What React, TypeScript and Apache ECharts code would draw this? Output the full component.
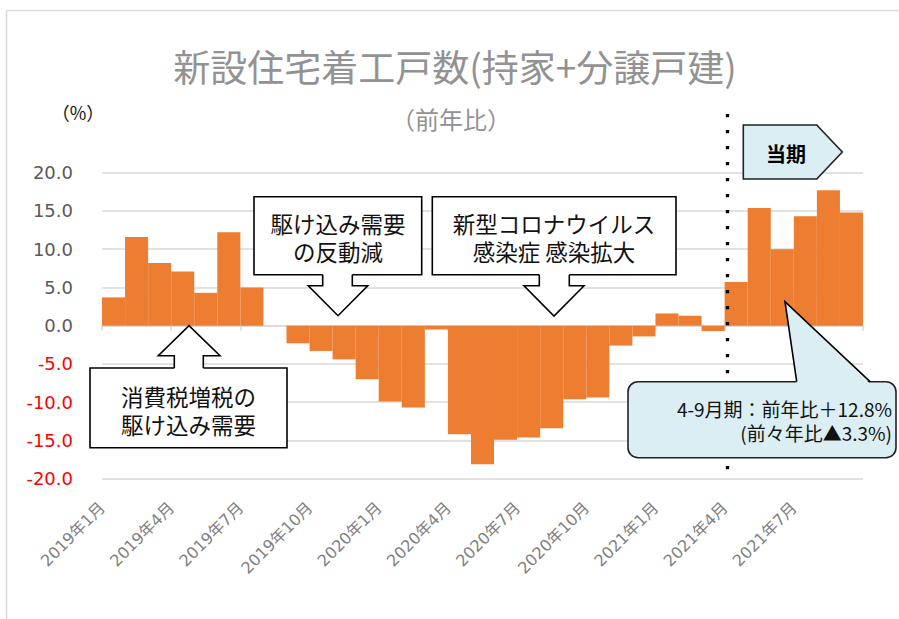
import { useEffect, useRef } from "react";
import * as echarts from "echarts";

const categories = [
  "2019年1月", "2019年2月", "2019年3月", "2019年4月", "2019年5月", "2019年6月",
  "2019年7月", "2019年8月", "2019年9月", "2019年10月", "2019年11月", "2019年12月",
  "2020年1月", "2020年2月", "2020年3月", "2020年4月", "2020年5月", "2020年6月",
  "2020年7月", "2020年8月", "2020年9月", "2020年10月", "2020年11月", "2020年12月",
  "2021年1月", "2021年2月", "2021年3月", "2021年4月", "2021年5月", "2021年6月",
  "2021年7月", "2021年8月", "2021年9月",
];

const yoyValues = [
  3.7, 11.6, 8.2, 7.1, 4.3, 12.2, 5.0, 0.0, -2.3, -3.3, -4.4, -7.0,
  -9.9, -10.7, -0.5, -14.2, -18.1, -14.9, -14.6, -13.4, -9.6, -9.4, -2.6, -1.4,
  1.6, 1.3, -0.7, 5.7, 15.4, 10.0, 14.3, 17.7, 14.8,
];

const yMin = -20;
const yMax = 20;
const yStep = 5;

const titleText = "新設住宅着工戸数(持家+分譲戸建)";
const subtitleText = "（前年比）";
const unitText = "（%）";
const box1Lines = ["駆け込み需要", "の反動減"];
const box2Lines = ["新型コロナウイルス", "感染症 感染拡大"];
const box3Lines = ["消費税増税の", "駆け込み需要"];
const periodText = "当期";
const calloutLines = ["4-9月期：前年比＋12.8%", "(前々年比▲3.3%)"];

const JP = "'Noto Sans CJK JP', 'Noto Sans', sans-serif";
const NUM = "'DejaVu Sans', 'Noto Sans CJK JP', sans-serif";
const BAR = "#ED7D31";
const BLUE = "#DAEEF3";
const GRID = "#D9D9D9";

export default function App() {
  const ref = useRef<HTMLDivElement>(null);

  useEffect(() => {
    if (!ref.current) return;
    const chart = echarts.init(ref.current, undefined, { renderer: "svg" });

    const Z = 100;
    const boxText = (lines: string[], cx: number, cy: number, lh: number, size: number) => ({
      type: "text",
      z: Z + 3,
      x: cx,
      y: cy,
      style: {
        text: lines.join("\n"),
        align: "center",
        verticalAlign: "middle",
        lineHeight: lh,
        fontSize: size,
        fontFamily: JP,
        fill: "#111",
      },
    });

    const box = (x1: number, y1: number, x2: number, y2: number) => ({
      type: "rect",
      z: Z,
      shape: { x: x1, y: y1, width: x2 - x1, height: y2 - y1 },
      style: { fill: "#fff", stroke: "#000", lineWidth: 1.6 },
    });

    const arrow = (pts: number[][], fill: string, coverDy: number) => {
      const fillPts = pts.map((p, i) =>
        i === 0 || i === pts.length - 1 ? [p[0], p[1] + coverDy] : p
      );
      return [
        { type: "polygon", z: Z + 1, shape: { points: fillPts }, style: { fill, stroke: null } },
        { type: "polyline", z: Z + 2, shape: { points: pts }, style: { stroke: "#000", lineWidth: 1.6, fill: null } },
      ];
    };

    const graphics: any[] = [
      { type: "line", z: Z, shape: { x1: 6.5, y1: 10.5, x2: 899, y2: 10.5 }, style: { stroke: GRID, lineWidth: 1.5 } },
      { type: "line", z: Z, shape: { x1: 6.5, y1: 10.5, x2: 6.5, y2: 619 }, style: { stroke: GRID, lineWidth: 1.5 } },
      {
        type: "text", z: Z, x: 455, y: 66,
        style: { text: titleText, align: "center", verticalAlign: "middle", fontSize: 37, fontFamily: JP, fill: "#929292" },
      },
      {
        type: "text", z: Z, x: 451, y: 118,
        style: { text: subtitleText, align: "center", verticalAlign: "middle", fontSize: 24, fontFamily: JP, fill: "#929292" },
      },
      {
        type: "text", z: Z, x: 78, y: 112,
        style: { text: unitText, align: "center", verticalAlign: "middle", fontSize: 18, fontFamily: JP, fill: "#111" },
      },
      {
        type: "line", z: Z, shape: { x1: 727.5, y1: 114, x2: 727.5, y2: 470 },
        style: { stroke: "#000", lineWidth: 3.3, lineDash: [3.3, 12.7] },
      },
      box(254, 196.7, 421.7, 274.7),
      ...arrow([[322.7, 274.7], [322.7, 285.7], [308.3, 285.7], [338, 315.7], [367.7, 285.7], [352.3, 285.7], [352.3, 274.7]], "#fff", -2),
      boxText(box1Lines, 338, 237, 28, 22.5),
      box(432.3, 196.7, 676, 274.7),
      ...arrow([[539.3, 274.7], [539.3, 285.7], [524, 285.7], [554, 316], [584, 285.7], [569.3, 285.7], [569.3, 274.7]], "#fff", -2),
      boxText(box2Lines, 554, 237, 28, 22.5),
      box(90, 368, 287, 447.7),
      ...arrow([[174.3, 368], [174.3, 355.7], [158.3, 355.7], [189, 325.7], [220, 355.7], [203.3, 355.7], [203.3, 368]], "#fff", 2),
      boxText(box3Lines, 188.5, 409.5, 28, 22.5),
      {
        type: "polygon", z: Z,
        shape: { points: [[743.3, 125], [816.7, 125], [842.3, 152], [816.7, 179], [743.3, 179]] },
        style: { fill: BLUE, stroke: "#222", lineWidth: 1.6 },
      },
      {
        type: "text", z: Z + 1, x: 786, y: 153,
        style: { text: periodText, align: "center", verticalAlign: "middle", fontSize: 20, fontWeight: "bold", fontFamily: JP, fill: "#000" },
      },
      {
        type: "rect", z: Z,
        shape: { x: 628, y: 381.7, width: 268, height: 76, r: 10 },
        style: { fill: BLUE, stroke: "#222", lineWidth: 1.6 },
      },
      ...arrow([[796.7, 381.7], [785, 301.7], [870, 381.7]], BLUE, 2),
      {
        type: "text", z: Z + 3, x: 892, y: 420,
        style: {
          text: calloutLines.join("\n"),
          align: "right",
          verticalAlign: "middle",
          lineHeight: 24,
          fontSize: 19,
          fontFamily: JP,
          fill: "#111",
        },
      },
    ];

    chart.setOption({
      animation: false,
      grid: { left: 102, right: 36, top: 172.7, bottom: 140.3, outerBoundsMode: "none" },
      xAxis: [
        {
          type: "category",
          data: categories,
          position: "bottom",
          axisLine: { show: false, onZero: false },
          axisTick: { show: false },
          axisLabel: {
            interval: 2,
            rotate: 45,
            margin: 15,
            color: "#7F7F7F",
            fontSize: 16,
            fontFamily: NUM,
            padding: [0, 16, 0, 0],
          },
        },
        {
          type: "category",
          data: categories,
          position: "bottom",
          axisLine: { show: true, onZero: true, lineStyle: { color: GRID, width: 1.5 } },
          axisTick: { show: true, interval: 2, length: 5, lineStyle: { color: GRID, width: 1.5 } },
          axisLabel: { show: false },
        },
      ],
      yAxis: {
        type: "value",
        min: yMin,
        max: yMax,
        interval: yStep,
        axisLine: { show: false },
        axisTick: { show: false },
        splitLine: { lineStyle: { color: GRID, width: 1.5 } },
        axisLabel: {
          margin: 29,
          formatter: (v: number) => (v < 0 ? `{neg|${v.toFixed(1)}}` : `{pos|${v.toFixed(1)}}`),
          rich: {
            neg: { color: "#FF0000", fontSize: 18, fontFamily: NUM },
            pos: { color: "#595959", fontSize: 18, fontFamily: NUM },
          },
        },
      },
      series: [
        {
          type: "bar",
          data: yoyValues,
          xAxisIndex: 0,
          barCategoryGap: "0%",
          itemStyle: { color: BAR },
        },
      ],
      graphic: graphics,
    });

    return () => chart.dispose();
  }, []);

  return (
    <div
      ref={ref}
      style={{ position: "fixed", left: 0, top: 0, width: 899, height: 619, background: "#fff" }}
    />
  );
}
